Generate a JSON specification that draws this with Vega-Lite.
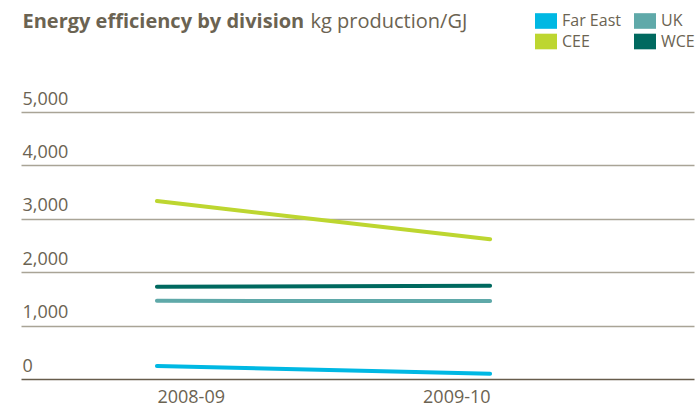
{
  "$schema": "https://vega.github.io/schema/vega-lite/v6.json",
  "autosize": "none",
  "width": 673,
  "height": 267,
  "padding": {"left": 21, "top": 112, "right": 1, "bottom": 27},
  "background": "white",
  "config": {
    "view": {"stroke": null},
    "font": "Open Sans",
    "text": {"font": "Open Sans"}
  },
  "data": {
    "values": [
      {"division": "Far East", "year": "2008-09", "value": 243},
      {"division": "Far East", "year": "2009-10", "value": 99},
      {"division": "UK", "year": "2008-09", "value": 1464},
      {"division": "UK", "year": "2009-10", "value": 1460},
      {"division": "CEE", "year": "2008-09", "value": 3332},
      {"division": "CEE", "year": "2009-10", "value": 2617},
      {"division": "WCE", "year": "2008-09", "value": 1728},
      {"division": "WCE", "year": "2009-10", "value": 1746}
    ]
  },
  "mark": {"type": "line", "strokeWidth": 4, "strokeCap": "round"},
  "encoding": {
    "x": {
      "field": "year",
      "type": "ordinal",
      "scale": {"type": "point", "domain": ["2008-09", "2009-10"], "padding": 0.51, "align": 0.4},
      "axis": {
        "domain": false,
        "ticks": false,
        "grid": false,
        "labelAngle": 0,
        "labelFont": "Open Sans",
        "labelFontSize": 18,
        "labelColor": "#6b6352",
        "labelPadding": 9,
        "labelAlign": {"condition": {"test": "datum.value == '2008-09'", "value": "left"}, "value": "right"},
        "title": "Energy efficiency by division",
        "titleAngle": 0,
        "titleAlign": "left",
        "titleAnchor": "start",
        "titleBaseline": "alphabetic",
        "titleX": 1,
        "titleY": -352,
        "titleFont": "Open Sans",
        "titleFontSize": 20,
        "titleFontWeight": "bold",
        "titleColor": "#6b6352"
      }
    },
    "y": {
      "field": "value",
      "type": "quantitative",
      "scale": {"domain": [0, 5000], "nice": false},
      "axis": {
        "values": [0, 1000, 2000, 3000, 4000, 5000],
        "format": ",d",
        "domain": false,
        "ticks": false,
        "grid": true,
        "gridWidth": 1.3,
        "gridColor": {"condition": {"test": "datum.value === 0", "value": "#675d4c"}, "value": "#a9a496"},
        "labelAlign": "left",
        "labelBaseline": "alphabetic",
        "labelPadding": -1,
        "labelOffset": -8,
        "labelFont": "Open Sans",
        "labelFontSize": 18,
        "labelColor": "#6b6352",
        "title": "kg production/GJ",
        "titleAngle": 0,
        "titleAlign": "left",
        "titleBaseline": "alphabetic",
        "titleX": 289,
        "titleY": -85,
        "titleFont": "Open Sans",
        "titleFontSize": 20,
        "titleFontWeight": "normal",
        "titleColor": "#6b6352"
      }
    },
    "color": {
      "field": "division",
      "type": "nominal",
      "scale": {
        "domain": ["Far East", "CEE", "UK", "WCE"],
        "range": ["#00b8e3", "#bdd630", "#5fa9a9", "#00695f"]
      },
      "legend": {
        "orient": "none",
        "legendX": 514,
        "legendY": -102,
        "title": null,
        "columns": 2,
        "columnPadding": 13,
        "rowPadding": 1.5,
        "symbolType": "M-1,-0.71H1V0.71H-1Z",
        "symbolSize": 484,
        "symbolStrokeWidth": 0,
        "labelFont": "Open Sans",
        "labelFontSize": 16,
        "labelColor": "#6b6352",
        "labelOffset": 5,
        "encode": {
          "symbols": {
            "update": {
              "fill": {"scale": "color", "field": "value"},
              "strokeWidth": {"value": 0},
              "opacity": {"value": 1}
            }
          }
        }
      }
    }
  }
}
